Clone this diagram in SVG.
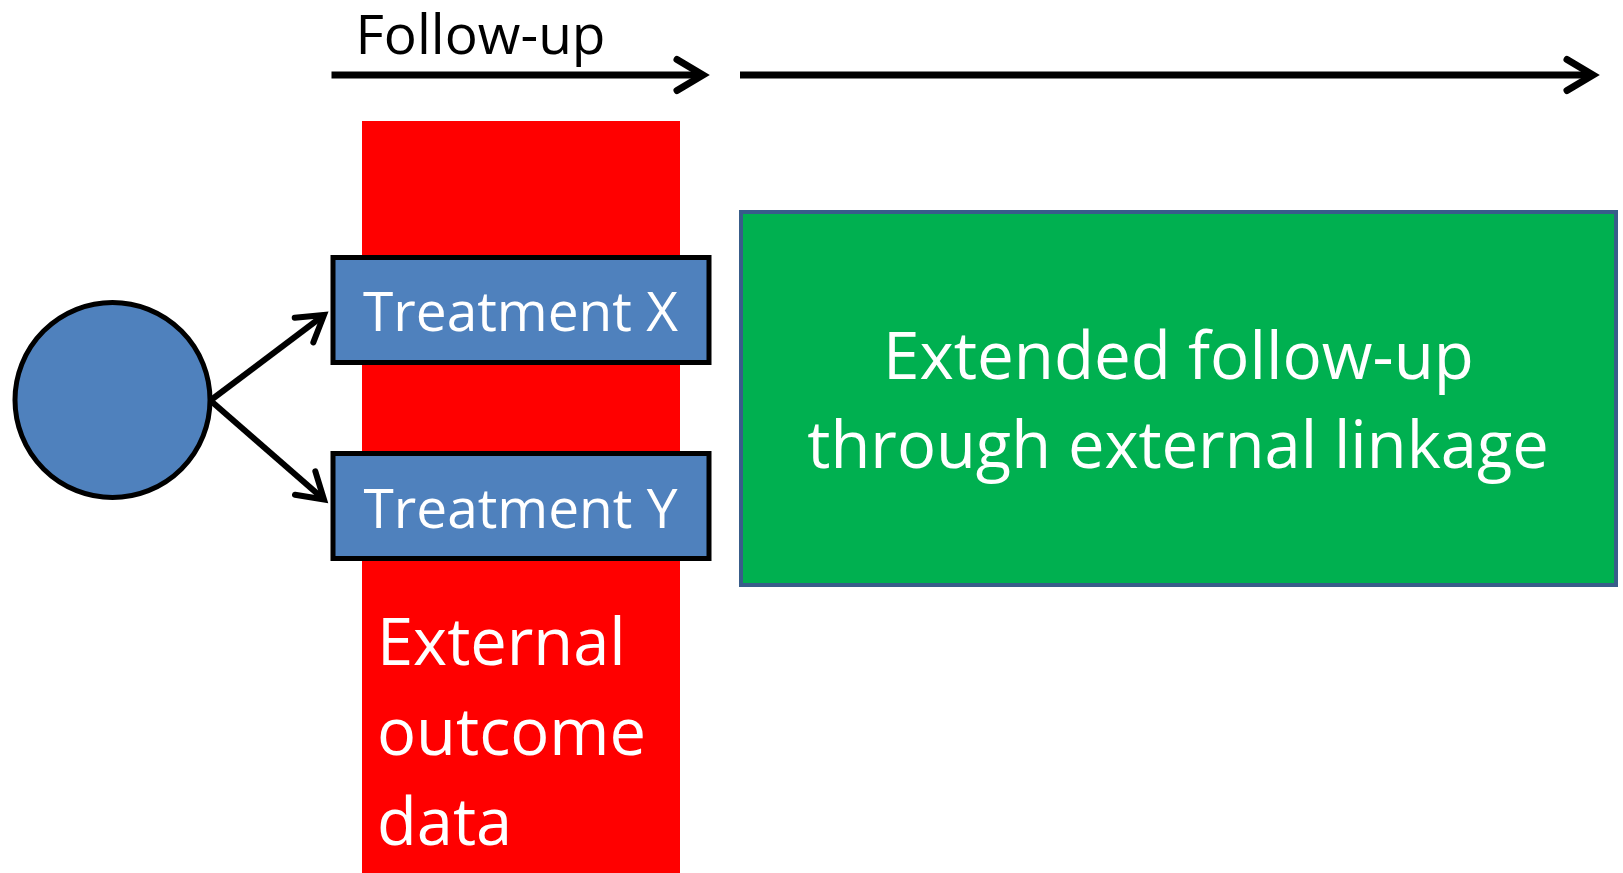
<svg xmlns="http://www.w3.org/2000/svg" width="1623" height="873" viewBox="0 0 1623 873">
  <style>
    .t { font-family: "Open Sans", "Liberation Sans", sans-serif; }
    .w { fill: #FFFFFF; }
    .blue { fill: #4F81BD; stroke: #000000; stroke-width: 5; }
    .conn { stroke: #000000; fill: none; }
  </style>
  <defs>
    <marker id="chevThick" markerUnits="userSpaceOnUse" markerWidth="60" markerHeight="60" refX="0" refY="0" orient="auto" overflow="visible">
      <path d="M-26,-15.5 L0,0 L-26,15.5" fill="none" stroke="#000000" stroke-width="7" stroke-linecap="round" stroke-linejoin="miter"/>
    </marker>
    <marker id="chevThin" markerUnits="userSpaceOnUse" markerWidth="60" markerHeight="60" refX="0" refY="0" orient="auto" overflow="visible">
      <path d="M-25,-15.5 L0,0 L-25,15.5" fill="none" stroke="#000000" stroke-width="6" stroke-linecap="round" stroke-linejoin="miter"/>
    </marker>
  </defs>
  <rect x="0" y="0" width="1623" height="873" fill="#FFFFFF"/>

  <g id="external-outcome">
    <rect x="362" y="121" width="318" height="752" fill="#FF0000"/>
    <text class="t w" font-size="65" x="377" y="664.5">External</text>
    <text class="t w" font-size="65" x="377" y="755">outcome</text>
    <text class="t w" font-size="65" x="377" y="845">data</text>
  </g>

  <g id="follow-up-label">
    <text class="t" font-size="55" fill="#000000" x="480.5" y="54" text-anchor="middle">Follow-up</text>
  </g>

  <g id="extended-follow-up">
    <rect x="741" y="212" width="875" height="373" fill="#00B050" stroke="#385D8A" stroke-width="4"/>
    <text class="t w" font-size="65.5" x="1178.5" y="379" text-anchor="middle">Extended follow-up</text>
    <text class="t w" font-size="65" x="1178" y="467.5" text-anchor="middle">through external linkage</text>
  </g>

  <g id="population">
    <circle class="blue" cx="112.5" cy="400" r="97.5"/>
  </g>

  <g id="treatment-x">
    <rect class="blue" x="333" y="257.5" width="376" height="105"/>
    <text class="t w" font-size="55" x="520.5" y="331" text-anchor="middle">Treatment X</text>
  </g>

  <g id="treatment-y">
    <rect class="blue" x="333" y="453.5" width="376" height="105"/>
    <text class="t w" font-size="55" x="520.5" y="527.5" text-anchor="middle">Treatment Y</text>
  </g>

  <g id="connectors">
    <line class="conn" x1="331.5" y1="75" x2="703" y2="75" stroke-width="7" marker-end="url(#chevThick)"/>
    <line class="conn" x1="740" y1="75" x2="1593" y2="75" stroke-width="7" marker-end="url(#chevThick)"/>
    <line class="conn" x1="211" y1="400" x2="324" y2="315" stroke-width="6" marker-end="url(#chevThin)"/>
    <line class="conn" x1="211" y1="401" x2="324" y2="499.5" stroke-width="6" marker-end="url(#chevThin)"/>
  </g>
</svg>
